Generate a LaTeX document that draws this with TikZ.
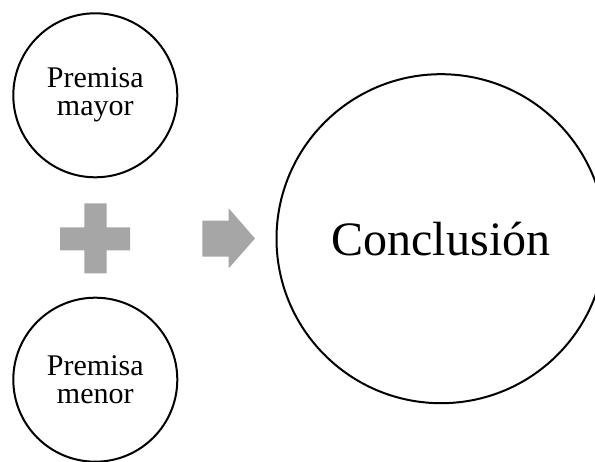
\documentclass[tikz,border=0pt]{standalone}
\usepackage{fontspec}
\setmainfont{Liberation Serif}
\definecolor{signgray}{HTML}{A6A6A6}
\begin{document}
\begin{tikzpicture}[x=1pt,y=-1pt,
  premise/.style={circle,draw=black,line width=2pt,minimum size=164pt,inner sep=0pt,
    align=center,font=\fontsize{30}{28}\selectfont},
  result/.style={circle,draw=black,line width=2pt,minimum size=329pt,inner sep=0pt,
    font=\fontsize{48}{52}\selectfont},
  sign/.style={fill=signgray,draw=none}]
  \useasboundingbox (0,0) rectangle (595,462);
  % the two premises
  \node[premise] (mayor) at (95.3,95.3) {Premisa\\mayor};
  \node[premise] (menor) at (95.3,379.7) {Premisa\\menor};
  % plus sign between them
  \fill[sign] (60,227.3) -- (84.3,227.3) -- (84.3,203.3) -- (106.7,203.3) -- (106.7,227.3)
    -- (130,227.3) -- (130,250.3) -- (106.7,250.3) -- (106.7,273.3) -- (84.3,273.3)
    -- (84.3,250.3) -- (60,250.3) -- cycle;
  % block arrow towards the conclusion
  \fill[sign] (202.3,220.7) -- (228.7,220.7) -- (228.7,208.3) -- (255,238.5)
    -- (228.7,268.3) -- (228.7,256.7) -- (202.3,256.7) -- cycle;
  % the conclusion
  \node[result] (concl) at (441,238.7) {Conclusión};
\end{tikzpicture}
\end{document}
